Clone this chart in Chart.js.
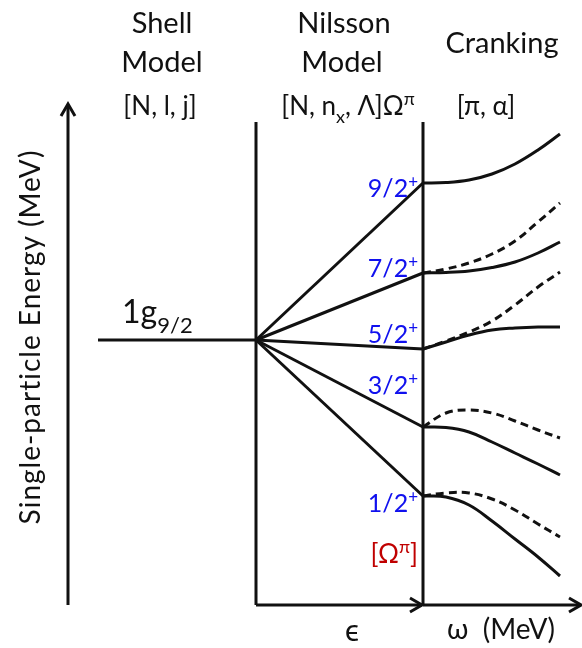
<!DOCTYPE html>
<html>
<head>
<meta charset="utf-8">
<script src="https://cdn.jsdelivr.net/npm/chart.js@4"></script>
<style>
  html, body { margin: 0; padding: 0; background: #fff; }
  #wrap { width: 582px; height: 648px; }
</style>
</head>
<body>
<div id="wrap"><canvas id="diagram" width="582" height="648"></canvas></div>
<script>
// energies in arbitrary units, 0 = the deformation / frequency axis
const levelLabels = ['1/2', '3/2', '5/2', '7/2', '9/2'];
const shellEnergy = 265;
const nilssonEnergy = [109, 178, 256, 332, 422];
const omegaSteps = [423, 446, 469, 492, 515, 538, 560];
const crankSolid = [
    [109, 108, 100, 84, 66, 48, 29],
    [178, 177.5, 173, 163, 152, 141, 130],
    [256, 263, 270, 275, 277, 278, 278],
    [332, 332.5, 334, 337.5, 343, 352, 363],
    [422, 422.5, 425, 431, 441, 455, 471]
];
const crankDashed = [
    [109, 112, 112, 106, 95, 81, 68],
    [178, 192, 195, 192, 184, 175, 167],
    [256, 264, 273, 284, 300, 318, 333],
    [332, 336, 342, 351, 364, 383, 402],
    null
];

// frame of the diagram (x in diagram units, y in energy units)
const frame = {
    energyAxisX: 68, energyTop: 500,
    shellStart: 98, nilssonStart: 256, crankStart: 423, omegaEnd: 581,
    boxTop: 483
};
const labelBaseline = [93, 211, 262, 328, 408];

const INK = '#111';
const FONT = 'Lato, "Open Sans", sans-serif';

function line(points, extra) {
    return Object.assign({
        data: points,
        showLine: true,
        borderColor: INK,
        borderWidth: 3,
        pointRadius: 0,
        tension: 0,
        clip: false,
        borderCapStyle: 'butt'
    }, extra || {});
}

const datasets = [];
// frame
datasets.push(line([{ x: frame.energyAxisX, y: 0 }, { x: frame.energyAxisX, y: frame.energyTop }]));
datasets.push(line([{ x: frame.nilssonStart, y: 0 }, { x: frame.nilssonStart, y: frame.boxTop }]));
datasets.push(line([{ x: frame.crankStart, y: 0 }, { x: frame.crankStart, y: frame.boxTop }]));
datasets.push(line([{ x: frame.nilssonStart, y: 0 }, { x: frame.crankStart - 1, y: 0 }]));
datasets.push(line([{ x: frame.crankStart, y: 0 }, { x: frame.omegaEnd, y: 0 }]));
// spherical shell-model level
datasets.push(line([{ x: frame.shellStart, y: shellEnergy }, { x: frame.nilssonStart, y: shellEnergy }]));
// Nilsson splitting
nilssonEnergy.forEach(e => {
    datasets.push(line([{ x: frame.nilssonStart, y: shellEnergy }, { x: frame.crankStart, y: e }]));
});
// cranking (solid and dashed signature partners)
crankSolid.forEach(arr => {
    datasets.push(line(omegaSteps.map((x, i) => ({ x: x, y: arr[i] })), { tension: 0.4 }));
});
crankDashed.forEach(arr => {
    if (!arr) return;
    datasets.push(line(omegaSteps.map((x, i) => ({ x: x, y: arr[i] })),
        { tension: 0.4, borderDash: [8, 5] }));
});

// draws text made of pieces; sub / sup pieces are smaller and shifted
function richText(ctx, pieces, x, y, size, align, color) {
    const fontFor = p => (p.sub || p.sup ? Math.round(size * 0.68) : size) + 'px ' + FONT;
    let total = 0;
    pieces.forEach(p => { ctx.font = fontFor(p); total += ctx.measureText(p.t).width; });
    let cx = align === 'center' ? x - total / 2 : align === 'right' ? x - total : x;
    ctx.fillStyle = color || INK;
    ctx.textAlign = 'left';
    ctx.textBaseline = 'alphabetic';
    pieces.forEach(p => {
        ctx.font = fontFor(p);
        const dy = p.sub ? size * 0.3 : p.sup ? -size * 0.38 : 0;
        ctx.fillText(p.t, cx, y + dy);
        cx += ctx.measureText(p.t).width;
    });
}

function arrowHead(ctx, tx, ty, dir) {
    const back = 12, half = 7;
    ctx.save();
    ctx.strokeStyle = INK;
    ctx.lineWidth = 3;
    ctx.lineJoin = 'miter';
    ctx.beginPath();
    if (dir === 'up') {
        ctx.moveTo(tx - half, ty + back); ctx.lineTo(tx, ty); ctx.lineTo(tx + half, ty + back);
    } else {
        ctx.moveTo(tx - back, ty - half); ctx.lineTo(tx, ty); ctx.lineTo(tx - back, ty + half);
    }
    ctx.stroke();
    ctx.restore();
}

const annotations = {
    id: 'annotations',
    afterDatasetsDraw(chart) {
        const ctx = chart.ctx;
        const X = v => chart.scales.x.getPixelForValue(v);
        const Y = v => chart.scales.y.getPixelForValue(v);
        ctx.save();

        arrowHead(ctx, X(frame.energyAxisX), Y(frame.energyTop) - 1, 'up');
        arrowHead(ctx, X(frame.crankStart) - 1, Y(0), 'right');
        arrowHead(ctx, X(frame.omegaEnd), Y(0), 'right');

        // column headers
        richText(ctx, [{ t: 'Shell' }], X(162), Y(572), 29, 'center');
        richText(ctx, [{ t: 'Model' }], X(162), Y(533), 29, 'center');
        richText(ctx, [{ t: 'Nilsson' }], X(344), Y(572), 29, 'center');
        richText(ctx, [{ t: 'Model' }], X(342), Y(533), 29, 'center');
        richText(ctx, [{ t: 'Cranking' }], X(502), Y(552), 29, 'center');
        richText(ctx, [{ t: '[N, l, j]' }], X(160), Y(490), 26, 'center');
        richText(ctx, [{ t: '[N, n' }, { t: 'x', sub: true }, { t: ', \u039B]\u03A9' }, { t: '\u03C0', sup: true }],
            X(348), Y(490), 26, 'center');
        richText(ctx, [{ t: '[\u03C0, \u03B1]' }], X(486), Y(490), 26, 'center');

        // shell-model label
        richText(ctx, [{ t: '1g' }, { t: '9/2', sub: true }], X(122), Y(282), 32, 'left');

        // Nilsson level labels
        levelLabels.forEach((lab, i) => {
            richText(ctx, [{ t: lab }, { t: '+', sup: true }], X(418), Y(labelBaseline[i]), 25, 'right', '#1010ee');
        });
        richText(ctx, [{ t: '[\u03A9' }, { t: '\u03C0', sup: true }, { t: ']' }], X(418), Y(42), 26, 'right', '#c00000');

        // axis titles
        richText(ctx, [{ t: '\u03F5' }], X(352), Y(-36), 30, 'center');
        richText(ctx, [{ t: '\u03C9  (MeV)' }], X(447), Y(-34), 28, 'left');
        ctx.save();
        ctx.translate(X(31), Y(268));
        ctx.rotate(-Math.PI / 2);
        ctx.font = '28px ' + FONT;
        ctx.letterSpacing = '1px';
        ctx.fillStyle = INK;
        ctx.textAlign = 'center';
        ctx.textBaseline = 'middle';
        ctx.fillText('Single-particle Energy (MeV)', 0, 0);
        ctx.restore();

        ctx.restore();
    }
};

new Chart(document.getElementById('diagram').getContext('2d'), {
    type: 'scatter',
    data: { datasets: datasets },
    options: {
        responsive: false,
        animation: false,
        layout: { padding: 0 },
        plugins: { legend: { display: false }, tooltip: { enabled: false } },
        scales: {
            x: { type: 'linear', min: 0, max: 582, display: false },
            y: { type: 'linear', min: -43, max: 605, display: false }
        }
    },
    plugins: [annotations]
});
</script>
</body>
</html>
